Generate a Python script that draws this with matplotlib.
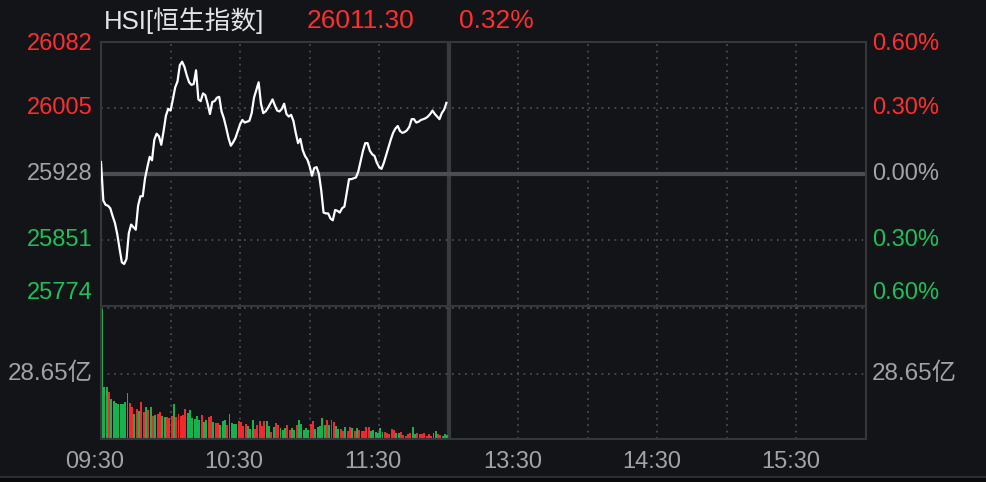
import matplotlib
matplotlib.use("Agg")
import matplotlib.pyplot as plt

# HSI intraday, morning session 09:30-12:00 (one point per minute)
prev_close = 25928
last_price = 26011.30
last_pct = "0.32%"

price = [
    25942, 25897, 25892, 25891, 25888, 25879, 25871, 25858, 25841, 25825,
    25823, 25829, 25859, 25869, 25866, 25863, 25891, 25902, 25902, 25923,
    25936, 25948, 25944, 25968, 25975, 25972, 25962, 25978, 25996, 26004,
    26002, 26015, 26029, 26036, 26055, 26059, 26053, 26043, 26035, 26032,
    26033, 26049, 26015, 26013, 26022, 26020, 26010, 25998, 26012, 26013,
    26017, 26018, 26001, 25993, 25982, 25970, 25961, 25965, 25970, 25978,
    25986, 25991, 25988, 25989, 25990, 25999, 26017, 26026, 26035, 26010,
    25999, 26001, 26005, 26010, 26015, 26008, 26002, 26001, 26004, 26010,
    25998, 25995, 25997, 25990, 25976, 25964, 25969, 25956, 25949, 25945,
    25937, 25926, 25935, 25936, 25928, 25909, 25883, 25882, 25882, 25876,
    25874, 25886, 25885, 25883, 25888, 25890, 25906, 25922, 25922, 25923,
    25924, 25931, 25943, 25955, 25964, 25964, 25955, 25951, 25949, 25941,
    25936, 25934, 25941, 25950, 25959, 25968, 25976, 25981, 25984, 25978,
    25976, 25977, 25979, 25983, 25992, 25992, 25988, 25989, 25991, 25992,
    25993, 25995, 25998, 26002, 25998, 25995, 25992, 25999, 26003, 26011,
]

# turnover per minute, in 亿
volume = [
    57.0, 22.6, 22.6, 20.5, 17.5, 16.6, 15.7, 15.3, 15.3, 15.3,
    16.2, 20.0, 15.7, 14.0, 11.0, 13.1, 12.3, 16.2, 11.9, 14.0,
    12.7, 14.0, 10.1, 10.6, 11.0, 11.9, 10.1, 9.7, 9.7, 9.3,
    10.1, 15.3, 9.7, 11.0, 10.1, 10.6, 13.1, 11.4, 12.7, 9.3,
    8.8, 10.1, 8.4, 10.6, 7.5, 8.4, 9.7, 10.1, 7.5, 7.1,
    6.9, 6.2, 8.0, 8.4, 6.2, 11.1, 7.1, 6.5, 6.5, 8.0,
    7.5, 5.8, 6.5, 5.5, 4.4, 8.4, 4.4, 6.2, 8.0, 5.8,
    8.0, 8.0, 5.8, 3.2, 5.4, 7.1, 6.2, 5.0, 4.1, 5.0,
    6.2, 4.1, 5.0, 4.1, 6.2, 8.4, 6.5, 4.1, 5.0, 4.1,
    6.5, 8.0, 4.5, 5.4, 5.8, 9.3, 6.2, 8.4, 6.2, 8.4,
    7.5, 5.7, 4.4, 4.4, 3.4, 5.3, 3.4, 5.3, 4.7, 3.4,
    5.0, 4.0, 3.4, 3.4, 5.3, 5.3, 3.4, 4.0, 3.1, 2.7,
    5.0, 3.1, 3.1, 2.7, 2.4, 4.4, 4.0, 2.7, 2.7, 3.1,
    1.7, 1.4, 2.2, 2.7, 5.3, 2.4, 2.7, 2.4, 2.2, 2.7,
    1.3, 2.2, 1.3, 2.7, 3.4, 2.2, 1.7, 1.4, 2.2, 1.7,
]
up_down = (
    "gggrggggggggrrgrgrrgrgrgrrggrrrgrrrrrggggggrggrrgrr"
    "gggrggggrrrrgggrrrrrggrgrrgggrrggrgggggrrgggggrgrr"
    "ggrrgrrgrgrrrrrggggggrrrrrggrrrrrggrrrrrrrggrr"
)[:150]

minutes = list(range(len(price)))

vol_mark = 28.65
price_ticks = [26082, 26005, 25928, 25851, 25774]
pct_labels = ["0.60%", "0.30%", "0.00%", "0.30%", "0.60%"]
time_ticks = [0, 60, 120, 180, 240, 300]
time_labels = ["09:30", "10:30", "11:30", "13:30", "14:30", "15:30"]

BG = "#131418"
SPINE = "#36373b"
GRID = "#4a4b50"
MID = "#4c4d52"
RED = "#ff2e2e"
GREEN = "#1dbf58"
GRAY = "#a3a3a6"
BAR_RED = "#ef2a2d"
BAR_GREEN = "#17b14d"
FONT = "Liberation Sans"
CJK = [FONT, "Noto Sans CJK SC", "DejaVu Sans"]

W, H = 986, 482
fig = plt.figure(figsize=(W / 100, H / 100), dpi=100, facecolor=BG)


def box(left, top, right, bottom):
    return [left / W, 1 - bottom / H, (right - left) / W, (bottom - top) / H]


ax = fig.add_axes(box(101, 42, 866, 306))
axv = fig.add_axes(box(101, 306, 866, 439))

dotted = dict(color=GRID, lw=1.3, ls=(0, (1, 2.6)), zorder=0)
for a in (ax, axv):
    a.set_facecolor(BG)
    a.set_xlim(0, 330)
    a.set_xticks([])
    a.set_yticks([])
    for s in a.spines.values():
        s.set_color(SPINE)
        s.set_linewidth(1.5)
    for m in [30, 60, 90, 120, 180, 210, 240, 270, 300]:
        a.axvline(m, **dotted)
    a.axvline(150, color="#3a3b3f", lw=3, zorder=0)

# price panel
ax.set_ylim(price_ticks[-1], price_ticks[0])
ax.axhline(price_ticks[1], **dotted)
ax.axhline(price_ticks[3], **dotted)
ax.axhline(prev_close, color=MID, lw=3, zorder=0)
ax.plot(minutes, price, color="white", lw=1.6, zorder=3)

label_colors = [RED, RED, GRAY, GREEN, GREEN]
nudge = [-2, 0, 0, 0, 13]  # px, keeps end labels inside the panel
for val, pct, col, dy in zip(price_ticks, pct_labels, label_colors, nudge):
    ax.annotate(str(val), xy=(0, val), xycoords=("axes fraction", "data"),
                xytext=(-8 * 0.72, dy * 0.72), textcoords="offset points",
                ha="right", va="center", color=col, fontsize=17, family=FONT)
    ax.annotate(pct, xy=(1, val), xycoords=("axes fraction", "data"),
                xytext=(6 * 0.72, dy * 0.72), textcoords="offset points",
                ha="left", va="center", color=col, fontsize=17, family=FONT)

# volume panel
axv.set_ylim(0, vol_mark * 2 * 1.017)
axv.axhline(vol_mark, **dotted)
axv.axhline(vol_mark * 2, **dotted)
bar_cols = [BAR_GREEN if c == "g" else BAR_RED for c in up_down]
axv.bar(minutes, volume, width=0.85, align="edge", color=bar_cols,
        linewidth=0, zorder=2)
vol_label = f"{vol_mark:.2f}亿"
axv.annotate(vol_label, xy=(0, vol_mark), xycoords=("axes fraction", "data"),
             xytext=(-8 * 0.72, 0), textcoords="offset points",
             ha="right", va="center", color=GRAY, fontsize=17.5, family=CJK)
axv.annotate(vol_label, xy=(1, vol_mark), xycoords=("axes fraction", "data"),
             xytext=(6 * 0.72, 0), textcoords="offset points",
             ha="left", va="center", color=GRAY, fontsize=17.5, family=CJK)

for m, lab in zip(time_ticks, time_labels):
    axv.annotate(lab, xy=(m, 0), xycoords=("data", "axes fraction"),
                 xytext=(-6 * 0.72, -23 * 0.72), textcoords="offset points",
                 ha="center", va="center", color=GRAY, fontsize=17, family=FONT)

# header
fig.text(104 / W, 1 - 21 / H, "HSI[恒生指数]", ha="left", va="center",
         color="#e4e4e6", fontsize=18.5, family=CJK)
fig.text(307 / W, 1 - 21 / H, f"{last_price:.2f}", ha="left", va="center",
         color=RED, fontsize=19, family=FONT)
fig.text(459 / W, 1 - 21 / H, last_pct, ha="left", va="center",
         color=RED, fontsize=19, family=FONT)

# bottom strip of the widget
fig.add_artist(plt.Rectangle((0, 0), 1, 5 / H, transform=fig.transFigure,
                             color="#0a0a0c", lw=0))
fig.add_artist(plt.Line2D([0, 1], [5.5 / H, 5.5 / H], transform=fig.transFigure,
                          color="#2c2d31", lw=1.5))

fig.savefig("out.png", dpi=100, facecolor=BG)
